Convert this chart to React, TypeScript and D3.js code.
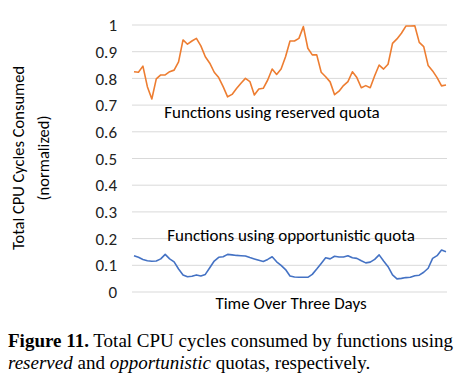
import React from "react";
import * as d3 from "d3";

const reserved = [
  0.825, 0.823, 0.846, 0.769, 0.723, 0.798, 0.813, 0.813, 0.825, 0.831,
  0.862, 0.944, 0.928, 0.94, 0.95, 0.922, 0.881, 0.857, 0.823, 0.803,
  0.769, 0.731, 0.74, 0.762, 0.782, 0.8, 0.788, 0.738, 0.76, 0.763,
  0.794, 0.835, 0.815, 0.835, 0.881, 0.94, 0.94, 0.95, 0.994, 0.913,
  0.888, 0.888, 0.823, 0.806, 0.787, 0.739, 0.752, 0.773, 0.788, 0.825,
  0.803, 0.765, 0.773, 0.765, 0.81, 0.85, 0.835, 0.853, 0.931, 0.948,
  0.969, 0.996, 0.996, 0.997, 0.935, 0.919, 0.848, 0.828, 0.803, 0.772,
  0.775,
];

const opportunistic = [
  0.136, 0.13, 0.122, 0.117, 0.115, 0.116, 0.124, 0.141, 0.124, 0.113,
  0.086, 0.064, 0.057, 0.059, 0.064, 0.06, 0.066, 0.091, 0.116, 0.13,
  0.132, 0.141, 0.139, 0.137, 0.136, 0.135, 0.129, 0.124, 0.119, 0.114,
  0.122, 0.132, 0.113, 0.1, 0.084, 0.06, 0.056, 0.055, 0.055, 0.055,
  0.066, 0.086, 0.107, 0.128, 0.124, 0.134, 0.131, 0.131, 0.136, 0.128,
  0.126, 0.117, 0.109, 0.112, 0.122, 0.139, 0.116, 0.095, 0.064, 0.049,
  0.051, 0.054, 0.055, 0.061, 0.063, 0.074, 0.089, 0.126, 0.136, 0.157,
  0.151,
];

const yTicks = [0, 0.1, 0.2, 0.3, 0.4, 0.5, 0.6, 0.7, 0.8, 0.9, 1];
const yTickLabels = ["0", "0.1", "0.2", "0.3", "0.4", "0.5", "0.6", "0.7", "0.8", "0.9", "1"];

const W = 469;
const H = 387;
const chartFont = "Carlito, Calibri, Lato, 'Open Sans', sans-serif";
const serif = "'Linux Libertine', 'Liberation Serif', 'DejaVu Serif', serif";

export default function App() {
  const x = d3
    .scalePoint<number>()
    .domain(d3.range(reserved.length))
    .range([134, 446]);
  const y = d3.scaleLinear().domain([0, 1]).range([292, 25]);
  const line = d3
    .line<number>()
    .x((_, i) => x(i) as number)
    .y((d) => y(d));

  return (
    <svg
      width={W}
      height={H}
      viewBox={`0 0 ${W} ${H}`}
      style={{ position: "absolute", left: 0, top: 0, background: "#fff" }}
    >
      <rect x={0} y={0} width={W} height={H} fill="#fff" />
      {yTicks.map((t) => (
        <line
          key={"g" + t}
          x1={132}
          x2={447}
          y1={y(t)}
          y2={y(t)}
          stroke="#d9d9d9"
          strokeWidth={1}
        />
      ))}
      {yTicks.map((t, i) => (
        <text
          key={"t" + t}
          x={117}
          y={y(t)}
          dy="0.36em"
          textAnchor="end"
          fontFamily={chartFont}
          fontSize={17}
          fill="#222"
        >
          {yTickLabels[i]}
        </text>
      ))}
      <path d={line(reserved) || ""} fill="none" stroke="#ED7D31" strokeWidth={1.6} strokeLinejoin="round" />
      <path d={line(opportunistic) || ""} fill="none" stroke="#4472C4" strokeWidth={1.6} strokeLinejoin="round" />

      <text x={272} y={118} textAnchor="middle" fontFamily={chartFont} fontSize={17} fill="#000">
        Functions using reserved quota
      </text>
      <text x={291} y={241} textAnchor="middle" fontFamily={chartFont} fontSize={17} fill="#000">
        Functions using opportunistic quota
      </text>
      <text x={291} y={309} textAnchor="middle" fontFamily={chartFont} fontSize={17} fill="#000">
        Time Over Three Days
      </text>

      <g transform="translate(18,158) rotate(-90)">
        <text x={0} y={0} dy="0.36em" textAnchor="middle" fontFamily={chartFont} fontSize={16.5} fill="#000">
          Total CPU Cycles Consumed
        </text>
        <text x={0} y={25} dy="0.36em" textAnchor="middle" fontFamily={chartFont} fontSize={16.5} fill="#000">
          (normalized)
        </text>
      </g>

      <text x={8} y={347} fontFamily={serif} fontSize={19} fill="#000">
        <tspan fontWeight="bold">Figure 11.</tspan>
        <tspan> Total CPU cycles consumed by functions using</tspan>
      </text>
      <text x={8} y={369} fontFamily={serif} fontSize={19} fill="#000">
        <tspan fontStyle="italic">reserved</tspan>
        <tspan> and </tspan>
        <tspan fontStyle="italic">opportunistic</tspan>
        <tspan> quotas, respectively.</tspan>
      </text>
    </svg>
  );
}
